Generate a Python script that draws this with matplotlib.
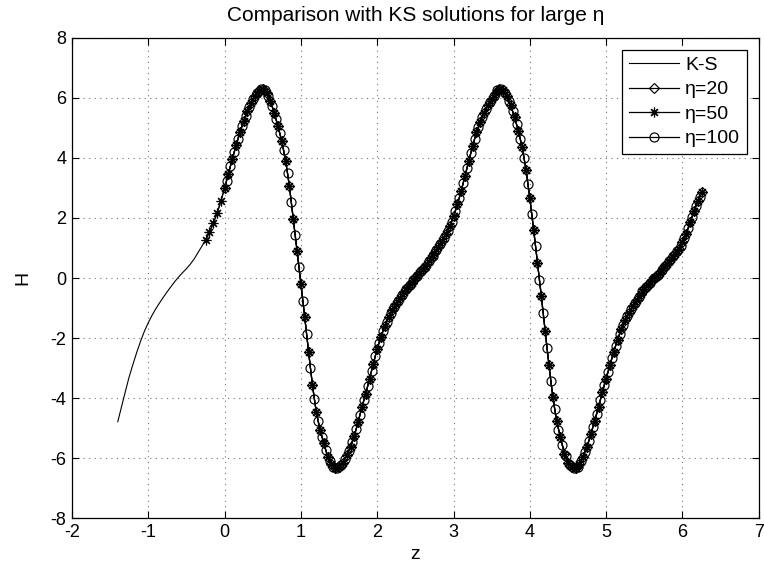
import numpy as np
import matplotlib
matplotlib.use('Agg')
import matplotlib.pyplot as plt

plt.rcParams['font.family'] = ['Liberation Sans', 'DejaVu Sans']
plt.rcParams['axes.unicode_minus'] = False

# K-S solution
z_ks = [-1.40, -1.35, -1.30, -1.25, -1.20, -1.15, -1.10, -1.05, -1.00, -0.95,
        -0.90, -0.85, -0.80, -0.75, -0.70, -0.65, -0.60, -0.55, -0.50, -0.45,
        -0.40, -0.35, -0.30, -0.25, -0.20, -0.15, -0.10, -0.05, 0.00, 0.05,
        0.10, 0.15, 0.20, 0.25, 0.30, 0.35, 0.40, 0.45, 0.50, 0.55,
        0.60, 0.65, 0.70, 0.75, 0.80, 0.85, 0.90, 0.95, 1.00, 1.05,
        1.10, 1.15, 1.20, 1.25, 1.30, 1.35, 1.40, 1.45, 1.50, 1.55,
        1.60, 1.65, 1.70, 1.75, 1.80, 1.85, 1.90, 1.95, 2.00, 2.05,
        2.10, 2.15, 2.20, 2.25, 2.30, 2.35, 2.40, 2.45, 2.50, 2.55,
        2.60, 2.65, 2.70, 2.75, 2.80, 2.85, 2.90, 2.95, 3.00, 3.05,
        3.10, 3.15, 3.20, 3.25, 3.30, 3.35, 3.40, 3.45, 3.50, 3.55,
        3.60, 3.65, 3.70, 3.75, 3.80, 3.85, 3.90, 3.95, 4.00, 4.05,
        4.10, 4.15, 4.20, 4.25, 4.30, 4.35, 4.40, 4.45, 4.50, 4.55,
        4.60, 4.65, 4.70, 4.75, 4.80, 4.85, 4.90, 4.95, 5.00, 5.05,
        5.10, 5.15, 5.20, 5.25, 5.30, 5.35, 5.40, 5.45, 5.50, 5.55,
        5.60, 5.65, 5.70, 5.75, 5.80, 5.85, 5.90, 5.95, 6.00, 6.05,
        6.10, 6.15, 6.20, 6.25]
h_ks = [-4.79, -4.28, -3.78, -3.29, -2.87, -2.47, -2.10, -1.77, -1.49, -1.24,
        -1.02, -0.82, -0.63, -0.45, -0.28, -0.11, 0.04, 0.18, 0.31, 0.46,
        0.63, 0.84, 1.05, 1.26, 1.52, 1.82, 2.15, 2.55, 3.00, 3.48,
        3.95, 4.42, 4.85, 5.22, 5.55, 5.82, 6.05, 6.24, 6.31, 6.15,
        5.90, 5.50, 5.05, 4.55, 3.90, 3.05, 1.95, 0.90, -0.20, -1.30,
        -2.45, -3.55, -4.45, -5.05, -5.50, -5.95, -6.20, -6.33, -6.30, -6.15,
        -5.90, -5.62, -5.25, -4.80, -4.30, -3.85, -3.35, -2.85, -2.35, -1.95,
        -1.60, -1.30, -1.05, -0.85, -0.65, -0.45, -0.30, -0.15, 0.00, 0.15,
        0.30, 0.47, 0.65, 0.83, 1.02, 1.22, 1.45, 1.72, 2.05, 2.45,
        2.90, 3.40, 3.90, 4.40, 4.85, 5.20, 5.50, 5.75, 5.97, 6.17,
        6.30, 6.25, 6.05, 5.75, 5.35, 4.90, 4.35, 3.60, 2.65, 1.60,
        0.50, -0.60, -1.75, -2.90, -3.95, -4.75, -5.30, -5.85, -6.15, -6.30,
        -6.33, -6.20, -5.95, -5.62, -5.20, -4.75, -4.30, -3.80, -3.35, -2.90,
        -2.45, -2.05, -1.70, -1.40, -1.15, -0.93, -0.72, -0.52, -0.36, -0.22,
        -0.08, 0.05, 0.18, 0.33, 0.48, 0.64, 0.80, 0.98, 1.20, 1.48,
        1.85, 2.22, 2.55, 2.85]

# eta=100 solution sits on its own grid, between the K-S points
z_100 = [0.025, 0.075, 0.125, 0.175, 0.225, 0.275, 0.325, 0.375, 0.425, 0.475,
         0.525, 0.575, 0.625, 0.675, 0.725, 0.775, 0.825, 0.875, 0.925, 0.975,
         1.025, 1.075, 1.125, 1.175, 1.225, 1.275, 1.325, 1.375, 1.425, 1.475,
         1.525, 1.575, 1.625, 1.675, 1.725, 1.775, 1.825, 1.875, 1.925, 1.975,
         2.025, 2.075, 2.125, 2.175, 2.225, 2.275, 2.325, 2.375, 2.425, 2.475,
         2.525, 2.575, 2.625, 2.675, 2.725, 2.775, 2.825, 2.875, 2.925, 2.975,
         3.025, 3.075, 3.125, 3.175, 3.225, 3.275, 3.325, 3.375, 3.425, 3.475,
         3.525, 3.575, 3.625, 3.675, 3.725, 3.775, 3.825, 3.875, 3.925, 3.975,
         4.025, 4.075, 4.125, 4.175, 4.225, 4.275, 4.325, 4.375, 4.425, 4.475,
         4.525, 4.575, 4.625, 4.675, 4.725, 4.775, 4.825, 4.875, 4.925, 4.975,
         5.025, 5.075, 5.125, 5.175, 5.225, 5.275, 5.325, 5.375, 5.425, 5.475,
         5.525, 5.575, 5.625, 5.675, 5.725, 5.775, 5.825, 5.875, 5.925, 5.975,
         6.025, 6.075, 6.125, 6.175, 6.225]
h_100 = [3.24, 3.72, 4.19, 4.64, 5.05, 5.40, 5.70, 5.95, 6.16, 6.30,
         6.26, 6.05, 5.72, 5.29, 4.82, 4.25, 3.50, 2.52, 1.43, 0.35,
         -0.75, -1.88, -3.01, -4.03, -4.78, -5.29, -5.74, -6.10, -6.29, -6.34,
         -6.24, -6.04, -5.77, -5.45, -5.03, -4.55, -4.08, -3.60, -3.10, -2.60,
         -2.15, -1.77, -1.45, -1.17, -0.95, -0.75, -0.55, -0.37, -0.22, -0.07,
         0.07, 0.22, 0.38, 0.56, 0.74, 0.92, 1.12, 1.33, 1.58, 1.88,
         2.24, 2.67, 3.15, 3.65, 4.15, 4.63, 5.04, 5.36, 5.63, 5.87,
         6.08, 6.25, 6.30, 6.17, 5.91, 5.56, 5.13, 4.64, 4.00, 3.13,
         2.13, 1.05, -0.05, -1.17, -2.33, -3.44, -4.38, -5.05, -5.55, -5.94,
         -6.22, -6.34, -6.29, -6.09, -5.80, -5.42, -4.98, -4.53, -4.05, -3.57,
         -3.12, -2.67, -2.25, -1.87, -1.55, -1.27, -1.04, -0.82, -0.62, -0.44,
         -0.29, -0.15, -0.01, 0.11, 0.25, 0.40, 0.56, 0.72, 0.89, 1.08,
         1.33, 1.66, 2.03, 2.39, 2.70]

# where the eta=20 and eta=50 solutions start on the K-S grid
start_eta20 = 0.0
start_eta50 = -0.25

z = np.array(z_ks)
h = np.array(h_ks)
m20 = z >= start_eta20 - 1e-9
m50 = z >= start_eta50 - 1e-9

fig = plt.figure(figsize=(7.64, 5.67), dpi=100)
ax = fig.add_axes([0.0942, 0.0864, 0.899, 0.8466])

ax.plot(z, h, '-', color='k', lw=0.8, label='K-S')
ax.plot(z[m20], h[m20], '-', color='k', lw=0.9, marker='D', ms=5.5,
        mfc='none', mec='k', mew=0.85, label='η=20')
ax.plot(z[m50], h[m50], '-', color='k', lw=0.9, marker=(8, 2, 0), ms=7,
        mec='k', mew=0.85, label='η=50')
ax.plot(z_100, h_100, '-', color='k', lw=0.9, marker='o', ms=6.5,
        mfc='none', mec='k', mew=0.85, label='η=100')

ax.set_xlim(-2, 7)
ax.set_ylim(-8, 8)
ax.set_xticks(range(-2, 8))
ax.set_yticks(range(-8, 9, 2))
ax.grid(True, color='0.45', linestyle=(0, (1, 4)), linewidth=0.8)
ax.tick_params(direction='in', top=True, right=True, length=5, labelsize=13, pad=4)
for s in ax.spines.values():
    s.set_linewidth(0.9)

ax.set_xlabel('z', fontsize=14, labelpad=4)
ax.set_ylabel('H', fontsize=14, labelpad=14)
ax.set_title('Comparison with KS solutions for large η', fontsize=15, pad=12)

leg = ax.legend(loc='upper right', fontsize=14, fancybox=False, framealpha=1,
                edgecolor='k', handlelength=2.6, labelspacing=0.35,
                borderpad=0.35, handletextpad=0.3, borderaxespad=0.6)
leg.get_frame().set_linewidth(0.9)

fig.savefig('out.png', dpi=100)
